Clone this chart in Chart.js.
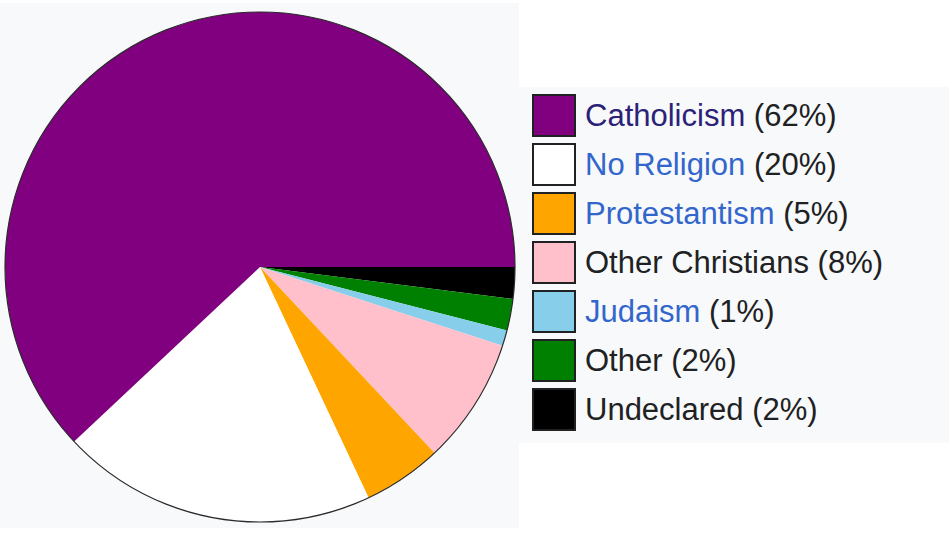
<!DOCTYPE html>
<html>
<head>
<meta charset="utf-8">
<script src="https://cdn.jsdelivr.net/npm/chart.js@4/dist/chart.umd.min.js"></script>
<style>
  html, body { margin: 0; padding: 0; background: #ffffff; width: 949px; height: 550px; overflow: hidden; }
  #pieBox { position: absolute; left: 0; top: 3px; width: 519px; height: 525px; background: #f8f9fa; }
  #legendBox { position: absolute; left: 519px; top: 87px; width: 430px; height: 356px; background: #f8f9fa; }
  .row { position: absolute; left: 13px; height: 43px; display: flex; align-items: center; white-space: nowrap;
         font-family: "Liberation Sans", Arial, sans-serif; font-size: 31px; color: #202122; }
  .sw { width: 40px; height: 39px; border: 2px solid #202122; margin-right: 9px; flex: none; }
</style>
</head>
<body>
<div id="pieBox"><canvas id="c"></canvas></div>
<div id="legendBox"></div>
<script>
const categories = ["Catholicism", "No Religion", "Protestantism", "Other Christians", "Judaism", "Other", "Undeclared"];
const shares = [62, 20, 5, 8, 1, 2, 2];
const sliceColors = ["#800080", "#ffffff", "#ffa500", "#ffc0cb", "#87ceeb", "#008000", "#000000"];
const labelColors = ["#2b2278", "#3366cc", "#3366cc", "#202122", "#3366cc", "#202122", "#202122"];

// Legend (HTML, built from the arrays)
const lb = document.getElementById('legendBox');
categories.forEach((name, i) => {
  const row = document.createElement('div');
  row.className = 'row';
  row.style.top = (7 + 49 * i) + 'px';
  const sw = document.createElement('div');
  sw.className = 'sw';
  sw.style.background = sliceColors[i];
  const nm = document.createElement('span');
  nm.style.color = labelColors[i];
  nm.textContent = name;
  const pct = document.createElement('span');
  pct.textContent = '\u00a0(' + shares[i] + '%)';
  row.appendChild(sw); row.appendChild(nm); row.appendChild(pct);
  lb.appendChild(row);
});

// Pie: reversed order, starting at 3 o'clock clockwise == original counter-clockwise
const pieLabels = categories.slice().reverse();
const pieData = shares.slice().reverse();
const pieColors = sliceColors.slice().reverse();

const outline = {
  id: 'outline',
  afterDatasetsDraw(chart) {
    const arc = chart.getDatasetMeta(0).data[0];
    if (!arc) return;
    const ctx = chart.ctx;
    ctx.save();
    ctx.beginPath();
    ctx.arc(arc.x, arc.y, arc.outerRadius, 0, Math.PI * 2);
    ctx.lineWidth = 1.2;
    ctx.strokeStyle = '#2a2a2a';
    ctx.stroke();
    ctx.restore();
  }
};

const cv = document.getElementById('c');
cv.width = 519; cv.height = 525;
new Chart(cv, {
  type: 'pie',
  data: {
    labels: pieLabels,
    datasets: [{ data: pieData, backgroundColor: pieColors, borderWidth: 0, hoverOffset: 0 }]
  },
  options: {
    responsive: false,
    animation: false,
    rotation: 90,
    layout: { padding: { left: 5, right: 4, top: 7, bottom: 4 } },
    plugins: { legend: { display: false }, tooltip: { enabled: false } }
  },
  plugins: [outline]
});
</script>
</body>
</html>
